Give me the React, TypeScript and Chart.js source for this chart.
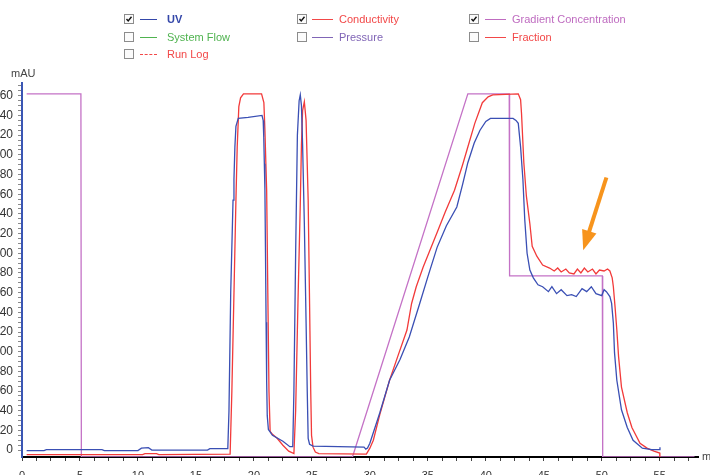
import React, { useEffect, useRef } from "react";
import { Chart, registerables } from "chart.js";

Chart.register(...registerables);

// ---- data (x = elution, y = mAU) ----
const UV_T = [0.4, 1.9, 2.1, 6.9, 7.1, 10.0, 10.3, 10.9, 11.2, 16.0, 16.2, 17.75, 17.85, 18.0, 18.2, 18.28, 18.36, 18.45, 18.65, 19.5, 20.7, 20.8, 20.85, 20.9, 20.95, 21.0, 21.05, 21.1, 21.15, 21.25, 21.6, 22.5, 23.1, 23.35, 23.45, 23.6, 23.75, 23.9, 24.0, 24.1, 24.2, 24.35, 24.5, 24.6, 24.68, 24.8, 25.1, 29.5, 29.65, 29.8, 30.0, 30.86, 31.7, 32.6, 33.4, 34.3, 35.0, 35.8, 36.6, 37.5, 38.0, 38.45, 39.0, 39.5, 40.0, 40.4, 42.35, 42.6, 42.8, 43.0, 43.2, 43.36, 43.56, 43.8, 44.1, 44.5, 44.9, 45.4, 45.7, 46.1, 46.5, 47.0, 47.4, 47.8, 48.3, 48.7, 49.1, 49.5, 50.0, 50.2, 50.4, 50.7, 50.85, 51.0, 51.1, 51.3, 51.7, 52.2, 52.7, 53.5, 54.3, 55.0, 55.02];
const UV_V = [-0.5, -0.5, 0.5, 0.5, -0.5, -0.5, 2, 2.5, 0, 0, 1.5, 1.5, 40, 160, 254, 275, 308, 329, 337, 338, 340, 335, 318, 291, 264, 200, 130, 70, 35, 21, 15, 9, 3.5, 3.5, 60, 200, 320, 355, 361, 350, 310, 230, 130, 60, 12, 6, 4, 3, 1, 2, 7, 38, 71, 92, 115, 149, 176, 206, 228, 247, 270, 292, 312, 325, 334, 337, 337, 335, 332, 308, 275, 234, 200, 183, 175, 168, 166, 161, 166, 159, 163, 157, 158, 156, 164, 161, 166, 159, 157, 163, 161, 156, 149, 129, 99, 71, 41, 23, 10, 2, 0.5, 0.5, 3];

const COND_T = [0.4, 10.4, 10.6, 11.6, 11.8, 17.95, 18.1, 18.3, 18.45, 18.56, 18.7, 18.85, 19.1, 20.66, 20.86, 20.95, 21.03, 21.1, 21.2, 21.3, 21.4, 21.6, 22.0, 22.5, 23.0, 23.45, 23.6, 23.8, 24.0, 24.1, 24.2, 24.35, 24.5, 24.6, 24.68, 24.8, 24.9, 24.97, 25.1, 25.3, 25.6, 29.7, 30.0, 30.3, 30.9, 31.7, 32.4, 33.2, 33.6, 34.0, 34.6, 35.8, 36.5, 37.3, 38.0, 38.45, 39.05, 39.7, 40.2, 40.6, 42.8, 43.0, 43.08, 43.28, 43.5, 43.8, 44.0, 44.4, 44.9, 45.5, 45.9, 46.2, 46.5, 46.9, 47.2, 47.6, 47.9, 48.2, 48.5, 48.8, 49.2, 49.5, 49.8, 50.2, 50.5, 50.7, 50.9, 51.0, 51.15, 51.3, 51.45, 51.7, 52.2, 52.6, 53.3, 53.9, 54.5, 55.0, 55.01];
const COND_V = [-4.5, -4.5, -3.5, -3.5, -4.5, -4, 60, 170, 254, 308, 349, 358, 362, 362, 353, 325, 292, 264, 160, 60, 19, 16, 12, 5, -1, -3.5, 40, 150, 250, 310, 345, 354, 335, 290, 254, 150, 60, 15, 3, -2, -3.5, -4, 2, 10, 38, 71, 95, 122, 149, 166, 186, 221, 242, 264, 290, 308, 332, 353, 359, 361, 362, 356, 342, 292, 258, 230, 207, 197, 188, 185, 182, 185, 181, 184, 180, 179, 184, 180, 185, 181, 184, 179, 183, 182, 184, 182, 175, 166, 145, 122, 95, 64, 38, 23, 7, 2, -1, -3, -7];

const GRAD_T = [0.4, 5.08, 5.12, 28.5, 38.45, 42.02, 42.05, 50.05, 50.08, 58.0];
const GRAD_V = [362, 362, -7, -7, 362, 362, 177, 177, -7, -7];

const X_MIN = 0;
const X_MAX = 58.3;
const Y_MIN = -7;
const Y_MAX = 373;
const X_LABEL_STEP = 5;
const X_MINOR_STEP = 1.25;
const Y_LABEL_STEP = 20;
const Y_LABEL_MAX = 360;
const Y_MINOR_STEP = 5;

const ARROW_FROM = [50.4, 277];
const ARROW_TO = [48.4, 203];

const LEGEND_NAMES = ["UV", "Conductivity", "Gradient Concentration", "System Flow", "Pressure", "Fraction", "Run Log"];
const LEGEND_CHECKED = [true, true, true, false, false, false, false];
const LEGEND_COLORS = ["#3447a9", "#f24848", "#bf6cc0", "#4fb34f", "#8065b6", "#f24848", "#f24848"];

// ---- styling ----
const BLUE = "#3a4fb4";
const RED = "#f23a3a";
const PURPLE = "#c472c6";
const OFFSET = 20; // canvas extends left beyond the viewport (labels are clipped)
const FONT = "'Liberation Sans', Arial, Helvetica, sans-serif";

const arrowPlugin = {
  id: "arrow",
  afterDatasetsDraw(chart: any) {
    const { ctx, scales } = chart;
    const x1 = scales.x.getPixelForValue(ARROW_FROM[0]);
    const y1 = scales.y.getPixelForValue(ARROW_FROM[1]);
    const x2 = scales.x.getPixelForValue(ARROW_TO[0]);
    const y2 = scales.y.getPixelForValue(ARROW_TO[1]);
    const dx = x2 - x1, dy = y2 - y1;
    const len = Math.hypot(dx, dy);
    const ux = dx / len, uy = dy / len;
    const px = -uy, py = ux;
    const head = 20, half = 7.5;
    const bx = x2 - ux * head, by = y2 - uy * head;
    ctx.save();
    ctx.strokeStyle = "#f7941d";
    ctx.fillStyle = "#f7941d";
    ctx.lineWidth = 4;
    ctx.beginPath();
    ctx.moveTo(x1, y1);
    ctx.lineTo(bx + ux * 2, by + uy * 2);
    ctx.stroke();
    ctx.beginPath();
    ctx.moveTo(x2, y2);
    ctx.lineTo(bx + px * half, by + py * half);
    ctx.lineTo(bx - px * half, by - py * half);
    ctx.closePath();
    ctx.fill();
    ctx.restore();
  },
};

function CheckBox({ checked }: { checked: boolean }) {
  return (
    <svg width="10" height="10" style={{ display: "block" }}>
      <rect x="0.5" y="0.5" width="9" height="9" fill="#fbfbfb" stroke="#8c8c8c" />
      {checked && <path d="M2.5 5 L4.2 7 L7.5 2.8" stroke="#111" strokeWidth="1.4" fill="none" />}
    </svg>
  );
}

export default function App() {
  const ref = useRef<HTMLCanvasElement>(null);

  useEffect(() => {
    Chart.defaults.font.family = FONT;
    const mk = (t: number[], v: number[]) => t.map((x, i) => ({ x, y: v[i] }));
    const chart = new Chart(ref.current as HTMLCanvasElement, {
      type: "line",
      data: {
        datasets: [
          { label: "UV", data: mk(UV_T, UV_V), borderColor: BLUE, borderWidth: 1.3, pointRadius: 0, tension: 0, fill: false },
          { label: "Conductivity", data: mk(COND_T, COND_V), borderColor: RED, borderWidth: 1.3, pointRadius: 0, tension: 0, fill: false },
          { label: "Gradient Concentration", data: mk(GRAD_T, GRAD_V), borderColor: PURPLE, borderWidth: 1.3, pointRadius: 0, tension: 0, fill: false },
        ],
      },
      options: {
        animation: false,
        responsive: false,
        devicePixelRatio: 1,
        layout: { padding: { top: 83, right: 12, bottom: 0, left: 0 } },
        plugins: { legend: { display: false }, tooltip: { enabled: false }, title: { display: false } },
        scales: {
          x: {
            type: "linear",
            min: X_MIN,
            max: X_MAX,
            afterBuildTicks: (s: any) => {
              const ticks = [];
              for (let v = X_MIN; v <= X_MAX; v += X_MINOR_STEP) ticks.push({ value: v });
              s.ticks = ticks;
            },
            afterFit: (s: any) => { s.height = 43; },
            ticks: {
              autoSkip: false,
              maxRotation: 0,
              padding: 8,
              color: "#333",
              font: { size: 11, family: FONT },
              callback: (v: any) => (Math.abs(v % X_LABEL_STEP) < 1e-6 ? String(v) : ""),
            },
            grid: { drawOnChartArea: false, drawTicks: true, tickLength: 4, color: "#444", lineWidth: 1 },
            border: { display: true, color: "#000", width: 2 },
          },
          y: {
            type: "linear",
            min: Y_MIN,
            max: Y_MAX,
            afterBuildTicks: (s: any) => {
              const ticks = [];
              for (let v = 0; v <= Y_MAX; v += Y_MINOR_STEP) ticks.push({ value: v });
              s.ticks = ticks;
            },
            afterFit: (s: any) => { s.width = 22 + OFFSET; },
            ticks: {
              autoSkip: false,
              padding: 5,
              color: "#333",
              font: { size: 12, family: FONT },
              callback: (v: any) => (v % Y_LABEL_STEP === 0 && v <= Y_LABEL_MAX ? String(v) : ""),
            },
            grid: { drawOnChartArea: false, drawTicks: true, tickLength: 4, color: "#8a8a8a", lineWidth: 1 },
            border: { display: true, color: "#3a56b4", width: 2 },
          },
        },
      },
      plugins: [arrowPlugin],
    });
    return () => chart.destroy();
  }, []);

  const colX = [124, 297, 469];
  const lineX = [140, 312, 485];
  const textX = [167, 339, 512];
  const rowY = [19, 36.5, 54];

  return (
    <div style={{ position: "absolute", left: 0, top: 0, width: 710, height: 475, overflow: "hidden", background: "#fff", fontFamily: FONT }}>
      <canvas ref={ref} width={710 + OFFSET} height={500} style={{ position: "absolute", left: -OFFSET, top: 0 }} />
      {LEGEND_NAMES.map((name, i) => {
        const col = i < 3 ? i : i < 6 ? i - 3 : 0;
        const row = i < 3 ? 0 : i < 6 ? 1 : 2;
        const cy = rowY[row];
        const color = LEGEND_COLORS[i];
        const dashed = name === "Run Log";
        return (
          <React.Fragment key={name}>
            <div style={{ position: "absolute", left: colX[col], top: cy - 5 }}>
              <CheckBox checked={LEGEND_CHECKED[i]} />
            </div>
            <div style={{ position: "absolute", left: lineX[col], top: cy, width: lineX[col] === 140 ? 17 : 21, height: 0, borderTop: `1px ${dashed ? "dashed" : "solid"} ${color}` }} />
            <div style={{ position: "absolute", left: textX[col], top: cy - 7, fontSize: 11, lineHeight: "14px", color, fontWeight: name === "UV" ? "bold" : "normal", whiteSpace: "nowrap" }}>
              {name}
            </div>
          </React.Fragment>
        );
      })}
      <div style={{ position: "absolute", left: 11, top: 67, fontSize: 11, lineHeight: "13px", color: "#444" }}>mAU</div>
      <div style={{ position: "absolute", left: 702, top: 450, fontSize: 11, lineHeight: "13px", color: "#444" }}>ml</div>
    </div>
  );
}
